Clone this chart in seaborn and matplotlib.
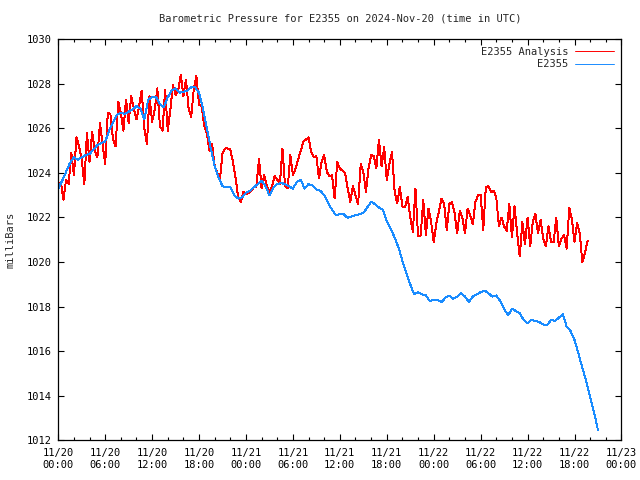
import pandas as pd
import matplotlib
matplotlib.use("Agg")
import matplotlib.pyplot as plt
import matplotlib.dates as mdates
import seaborn as sns

# station analysis, every 20 minutes from 2024-11-20 00:00 UTC (mb)
analysis_start = "2024-11-20 00:00"
analysis_mb = [
    1023.3, 1023.6, 1022.8, 1023.7, 1023.5, 1024.9, 1023.9, 1025.6, 1025.2, 1024.6,
    1023.5, 1025.8, 1024.5, 1025.85, 1025.0, 1024.7, 1026.25, 1025.3, 1024.4, 1026.7,
    1026.65, 1025.5, 1025.2, 1027.2, 1026.7, 1025.9, 1027.3, 1026.25, 1027.45, 1026.9,
    1026.4, 1027.0, 1027.7, 1026.0, 1025.3, 1027.45, 1026.3, 1026.85, 1027.8, 1026.1,
    1025.9, 1027.75, 1025.9, 1026.85, 1027.95, 1027.5, 1027.7, 1028.4, 1027.45, 1028.2,
    1026.9, 1026.5, 1027.8, 1028.35, 1027.05, 1027.0, 1026.1, 1025.8, 1025.0, 1025.3,
    1024.3, 1024.0, 1023.7, 1024.9, 1025.1, 1025.1, 1025.05, 1024.5, 1023.8, 1022.9,
    1022.7, 1023.15, 1023.05, 1023.1, 1023.2, 1023.35, 1023.4, 1024.65, 1023.3, 1023.9,
    1023.4, 1023.15, 1023.4, 1023.85, 1023.7, 1023.5, 1025.1, 1023.4, 1023.3, 1024.8,
    1023.9, 1024.2, 1024.6, 1025.0, 1025.4, 1025.5, 1025.6, 1024.95, 1024.7, 1024.75,
    1023.75, 1024.5, 1024.8, 1024.05, 1023.85, 1023.9, 1022.85, 1024.5, 1024.2, 1024.1,
    1024.0, 1023.3, 1022.7, 1023.4, 1023.0, 1022.6, 1024.4, 1024.05, 1023.15, 1024.2,
    1024.8, 1024.75, 1024.2, 1025.5, 1024.3, 1025.15, 1023.68, 1024.4, 1024.95, 1023.2,
    1022.63, 1023.38, 1022.5, 1022.45, 1022.93, 1022.0, 1021.36, 1023.3, 1021.15, 1021.2,
    1022.78, 1021.2, 1022.4, 1021.8, 1020.9, 1021.73, 1022.3, 1022.85, 1022.6, 1021.43,
    1022.6, 1022.7, 1022.2, 1021.28, 1022.3, 1022.0, 1021.28, 1022.4, 1022.1, 1021.7,
    1022.7, 1023.0, 1023.0, 1021.45, 1023.38, 1023.4, 1023.15, 1023.2, 1022.9, 1021.6,
    1022.0, 1021.6, 1021.4, 1022.6, 1021.1, 1022.5, 1021.3, 1020.25, 1021.8, 1020.8,
    1022.0, 1020.7, 1021.8, 1022.15, 1021.3, 1021.9, 1021.05, 1020.7, 1021.6, 1020.9,
    1020.9, 1022.0, 1020.7, 1021.06, 1021.2, 1020.6, 1022.45, 1021.9, 1020.9, 1021.75,
    1021.3, 1020.0, 1020.4, 1020.95,
]

# station observations, every 30 minutes (mb)
station_mb = [
    1023.3, 1023.65, 1024.05, 1024.45, 1024.7, 1024.6, 1024.7, 1024.8, 1024.85, 1025.05,
    1025.25, 1025.35, 1025.4, 1025.9, 1026.25, 1026.6, 1026.7, 1026.65, 1026.75, 1026.85,
    1027.0, 1026.9, 1026.4, 1027.3, 1027.4, 1027.4, 1027.1, 1026.95, 1027.4, 1027.7,
    1027.8, 1027.6, 1027.65, 1027.7, 1027.85, 1027.85, 1027.6, 1026.9, 1026.0, 1025.1,
    1024.3, 1023.8, 1023.4, 1023.35, 1023.35, 1023.0, 1022.85, 1022.9, 1023.1, 1023.2,
    1023.35, 1023.5, 1023.65, 1023.4, 1023.0, 1023.35, 1023.5, 1023.55, 1023.5, 1023.4,
    1023.3, 1023.6, 1023.68, 1023.3, 1023.5, 1023.45, 1023.25, 1023.2, 1023.0, 1022.65,
    1022.35, 1022.1, 1022.15, 1022.15, 1021.98, 1022.05, 1022.1, 1022.15, 1022.2, 1022.45,
    1022.7, 1022.6, 1022.45, 1022.35, 1021.85, 1021.5, 1021.1, 1020.65, 1020.05, 1019.5,
    1019.0, 1018.55, 1018.65, 1018.55, 1018.5, 1018.25, 1018.3, 1018.3, 1018.2, 1018.4,
    1018.5, 1018.35, 1018.45, 1018.6, 1018.45, 1018.2, 1018.45, 1018.55, 1018.65, 1018.72,
    1018.6, 1018.45, 1018.5, 1018.25, 1017.9, 1017.6, 1017.9, 1017.8, 1017.7, 1017.4,
    1017.25, 1017.4, 1017.35, 1017.3, 1017.2, 1017.16, 1017.4, 1017.35, 1017.5, 1017.65,
    1017.1, 1016.9, 1016.5, 1015.9, 1015.25, 1014.65, 1013.95, 1013.25, 1012.45,
]

y_ticks = [1012, 1014, 1016, 1018, 1020, 1022, 1024, 1026, 1028, 1030]

analysis = pd.DataFrame({
    "time": pd.date_range(analysis_start, periods=len(analysis_mb), freq="20min"),
    "mb": analysis_mb,
})
station = pd.DataFrame({
    "time": pd.date_range(analysis_start, periods=len(station_mb), freq="30min"),
    "mb": station_mb,
})

sns.set_style("ticks")
plt.rcParams["font.family"] = ["DejaVu Sans Mono"]
plt.rcParams["font.size"] = 7

fig = plt.figure(figsize=(6.4, 4.8), dpi=100)
ax = fig.add_axes([0.091, 0.083, 0.880, 0.835])

sns.lineplot(data=analysis, x="time", y="mb", ax=ax, color="#ff0000",
             linewidth=0.7, label="E2355 Analysis", antialiased=False)
sns.lineplot(data=station, x="time", y="mb", ax=ax, color="#1a8cff",
             linewidth=0.7, label="E2355", antialiased=False)

ax.set_xlim(pd.Timestamp("2024-11-20 00:00"), pd.Timestamp("2024-11-23 00:00"))
ax.set_ylim(1012, 1030)
ax.set_yticks(y_ticks)
ax.xaxis.set_major_locator(mdates.HourLocator(byhour=[0, 6, 12, 18]))
ax.xaxis.set_minor_locator(mdates.HourLocator(interval=2))
ax.xaxis.set_major_formatter(mdates.DateFormatter("%m/%d\n%H:%M"))

ax.tick_params(which="both", direction="in", top=True, right=True,
               colors="black", labelsize=7.5)
ax.tick_params(which="major", length=4.5, width=0.8)
ax.tick_params(which="minor", length=2.5, width=0.8)
ax.tick_params(axis="x", which="major", pad=6)
ax.tick_params(axis="y", which="major", pad=5)
for side in ax.spines.values():
    side.set_color("black")
    side.set_linewidth(0.9)

ax.set_xlabel("")
ax.set_ylabel("milliBars", fontsize=7.5, labelpad=8)
ax.set_title("Barometric Pressure for E2355 on 2024-Nov-20 (time in UTC)",
             fontsize=7.5, pad=13)

leg = ax.legend(loc="upper right", frameon=False, markerfirst=False,
                fontsize=7.5, handlelength=3.8, handletextpad=0.6,
                labelspacing=0.25, borderaxespad=0.3)
for t in leg.get_texts():
    t.set_ha("right")

fig.savefig("out.png", dpi=100, facecolor="white")
